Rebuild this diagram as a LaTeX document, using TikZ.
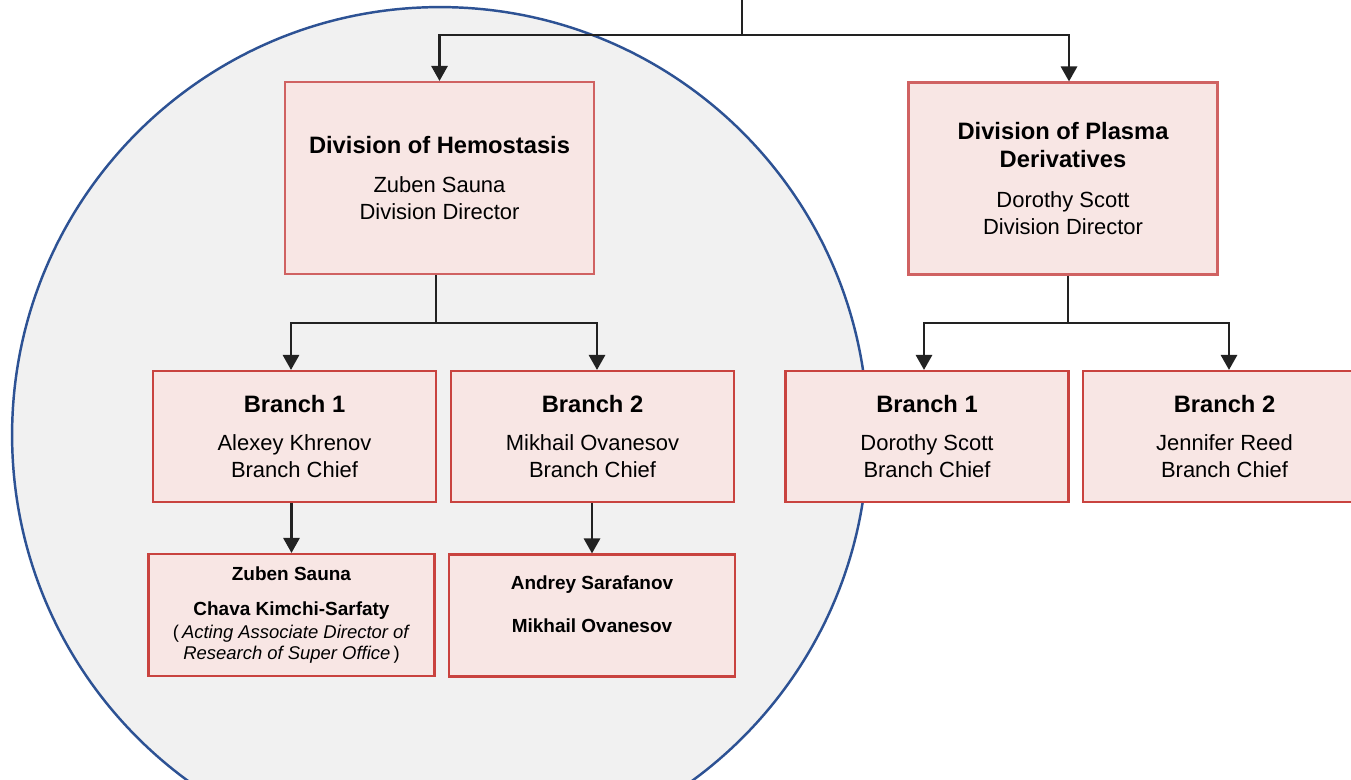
\documentclass[tikz,border=0pt]{standalone}
\usepackage{fontspec}
\setmainfont{Liberation Sans}
\usetikzlibrary{arrows.meta}

\definecolor{boxfill}{HTML}{F8E6E4}
\definecolor{boxline}{HTML}{C9433F}
\definecolor{divline}{HTML}{D06262}
\definecolor{circfill}{HTML}{F1F1F1}
\definecolor{circline}{HTML}{2D5294}
\definecolor{linkcol}{HTML}{222222}

\newcommand{\unittitle}[1]{{\fontsize{13.5}{15.3}\selectfont\bfseries #1}}

\begin{document}
\begin{tikzpicture}[x=0.02cm, y=-0.02cm,
	>={Triangle[length=0.3cm, width=0.32cm]},
	box/.style = {fill=boxfill, line width=1.2pt, align=center},
	division/.style = {box, draw=divline, minimum width=6.18cm, minimum height=3.84cm, font=\fontsize{12.5}{15.3}\selectfont},
	branch/.style = {box, draw=boxline, minimum width=5.66cm, minimum height=2.62cm, font=\fontsize{12.5}{15.3}\selectfont},
	team/.style = {box, draw=boxline, minimum width=5.72cm, minimum height=2.44cm, font=\fontsize{10.8}{13}\selectfont},
	link/.style = {draw=linkcol, line width=1.6pt}]
	\useasboundingbox (0,0) rectangle (1351,779);
	\clip (0,0) rectangle (1351,779);
	\fill[white] (0,0) rectangle (1351,779);

	% hemostasis group
	\draw[fill=circfill, draw=circline, line width=1.4pt] (440,435) circle [radius=8.56cm];

	% divisions
	\node[division] (divH) at (439.5,178) {\unittitle{Division of Hemostasis}\\[7.4pt] Zuben Sauna\\ Division Director};
	\node[division] (divP) at (1063,178.5) {\unittitle{Division of Plasma}\\[0.6pt] \unittitle{Derivatives}\\[7.4pt] Dorothy Scott\\ Division Director};

	% branches
	\node[branch] (hb1) at (294.5,436.5) {\unittitle{Branch 1}\\[6.8pt] Alexey Khrenov\\ Branch Chief};
	\node[branch] (hb2) at (592.5,436.5) {\unittitle{Branch 2}\\[6.8pt] Mikhail Ovanesov\\ Branch Chief};
	\node[branch] (pb1) at (927,436.5) {\unittitle{Branch 1}\\[6.8pt] Dorothy Scott\\ Branch Chief};
	\node[branch] (pb2) at (1224.5,436.5) {\unittitle{Branch 2}\\[6.8pt] Jennifer Reed\\ Branch Chief};

	% staff
	\node[team] (sub1) at (291.5,615) {\textbf{Zuben Sauna}\\[6.8pt] \textbf{Chava Kimchi-Sarfaty}\\ {\fontsize{10.5}{13}\selectfont(\,\textit{Acting Associate Director of}}\\[-1pt] {\fontsize{10.5}{13}\selectfont\textit{Research of Super Office}\,)}};
	\node[team] (sub2) at (592,615.5) {\textbf{Andrey Sarafanov}\\[12pt] \textbf{Mikhail Ovanesov}\\ \mbox{}};

	% connectors
	\coordinate (feed) at (742,0);
	\coordinate (fork) at (742,35);
	\coordinate (hfork) at (436,323);
	\coordinate (pfork) at (1068,323);
	\draw[link] (feed) -- (fork);
	\draw[link, ->] (fork) -| (divH.north);
	\draw[link, ->] (fork) -| ([xshift=0.12cm]divP.north);
	\draw[link] (divH.south -| hfork) -- (hfork);
	\draw[link, ->] (hfork) -| ([xshift=-0.07cm]hb1.north);
	\draw[link, ->] (hfork) -| ([xshift=0.09cm]hb2.north);
	\draw[link] (divP.south -| pfork) -- (pfork);
	\draw[link, ->] (pfork) -| ([xshift=-0.06cm]pb1.north);
	\draw[link, ->] (pfork) -| ([xshift=0.09cm]pb2.north);
	\draw[link, ->] (hb1.south -| sub1.north) -- (sub1.north);
	\draw[link, ->] (hb2.south -| sub2.north) -- (sub2.north);
\end{tikzpicture}
\end{document}
